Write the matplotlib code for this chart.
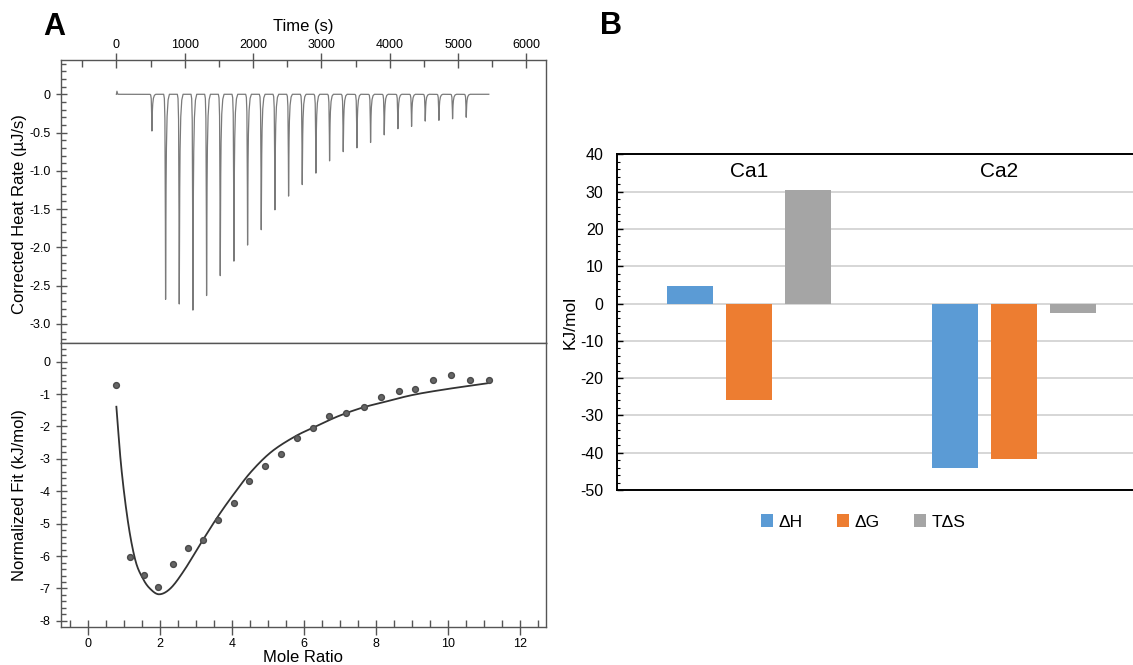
import numpy as np
import matplotlib
matplotlib.use("Agg")
import matplotlib.pyplot as plt
from matplotlib.ticker import MultipleLocator, FuncFormatter
from matplotlib.patches import Patch

plt.rcParams['font.family'] = ['Liberation Sans', 'DejaVu Sans']
plt.rcParams['axes.unicode_minus'] = False

# ---------------- data: panel A (raw ITC thermogram) ----------------
injection_times = [520, 720, 920, 1120, 1320, 1520, 1720, 1920, 2120, 2320, 2520, 2720,
                   2920, 3120, 3320, 3520, 3720, 3920, 4120, 4320, 4520, 4720, 4920, 5120]
peak_depths = [-0.48, -2.68, -2.74, -2.82, -2.63, -2.37, -2.18, -1.97, -1.77, -1.51, -1.33, -1.18,
               -1.03, -0.87, -0.75, -0.70, -0.63, -0.53, -0.45, -0.42, -0.35, -0.34, -0.32, -0.30]
# normalised shape of one injection peak (seconds relative to peak minimum)
peak_offsets = [-28, -18, -10, -4, 0, 4, 10, 20, 35, 55]
peak_profile = [0.0, -0.02, -0.12, -0.5, -1.0, -0.6, -0.3, -0.12, -0.03, 0.0]
run_start, run_end = 0, 5450
start_bump_t = [0, 8, 20, 40]
start_bump_y = [0.0, 0.04, 0.0, 0.0]

# ---------------- data: panel A (integrated heats + fit) ----------------
mole_ratio = [0.76, 1.15, 1.56, 1.95, 2.36, 2.77, 3.19, 3.61, 4.05, 4.47, 4.90, 5.36,
              5.79, 6.25, 6.70, 7.17, 7.66, 8.13, 8.62, 9.09, 9.59, 10.09, 10.61, 11.13]
norm_heat = [-0.72, -6.03, -6.58, -6.97, -6.25, -5.75, -5.49, -4.89, -4.36, -3.69, -3.23, -2.86,
             -2.37, -2.06, -1.68, -1.58, -1.40, -1.10, -0.91, -0.83, -0.58, -0.42, -0.55, -0.58]
fit_x = [0.78, 0.92, 1.11, 1.31, 1.51, 1.71, 1.97, 2.29, 2.67, 3.13, 3.60, 4.06, 4.53,
         5.09, 5.74, 6.30, 6.95, 7.61, 8.17, 9.00, 9.94, 11.13]
fit_y = [-1.39, -3.30, -5.00, -6.14, -6.68, -7.00, -7.18, -6.99, -6.43, -5.60, -4.78, -4.06, -3.39,
         -2.78, -2.31, -2.01, -1.68, -1.42, -1.26, -1.03, -0.85, -0.66]

# ---------------- data: panel B ----------------
sites = ['Ca1', 'Ca2']
series_names = ['\u0394H', '\u0394G', 'T\u0394S']
dH = [4.6, -44.2]
dG = [-25.8, -41.7]
TdS = [30.3, -2.5]
bar_colors = ['#5B9BD5', '#ED7D31', '#A5A5A5']

W, H = 1133, 665
fig = plt.figure(figsize=(W / 100, H / 100), dpi=100)

def frac(left, top, right, bottom):
    return [left / W, 1 - bottom / H, (right - left) / W, (bottom - top) / H]

def catmull_rom(xs, ys, n=20):
    """Smooth rendering of the read-off fit curve through its points."""
    P = np.column_stack([xs, ys]).astype(float)
    P = np.vstack([2 * P[0] - P[1], P, 2 * P[-1] - P[-2]])
    out = []
    for i in range(1, len(P) - 2):
        p0, p1, p2, p3 = P[i - 1], P[i], P[i + 1], P[i + 2]
        for s in np.linspace(0, 1, n, endpoint=False):
            out.append(0.5 * ((2 * p1) + (-p0 + p2) * s + (2 * p0 - 5 * p1 + 4 * p2 - p3) * s ** 2
                              + (-p0 + 3 * p1 - 3 * p2 + p3) * s ** 3))
    out.append(P[-2])
    out = np.array(out)
    return out[:, 0], out[:, 1]

spine_col = '#555555'
px = 0.72  # points per pixel

# ---------- top panel A ----------
axT = fig.add_axes(frac(60.7, 60, 545.7, 343))
t = np.arange(run_start, run_end + 1, 1.0)
trace = np.interp(t, start_bump_t, start_bump_y, left=0, right=0)
for tp, d in zip(injection_times, peak_depths):
    trace = trace + (-d) * np.interp(t - tp, peak_offsets, peak_profile, left=0, right=0)
axT.plot(t, trace, color='#7a7a7a', lw=0.9)
axT.set_xlim(-815, 6283)
axT.set_ylim(-3.25, 0.448)
axT.xaxis.tick_top()
axT.xaxis.set_label_position('top')
axT.xaxis.set_major_locator(MultipleLocator(1000))
axT.xaxis.set_minor_locator(MultipleLocator(500))
axT.yaxis.set_major_locator(MultipleLocator(0.5))
axT.yaxis.set_minor_locator(MultipleLocator(0.1))
axT.yaxis.set_major_formatter(FuncFormatter(lambda v, p: '0' if abs(v) < 1e-9 else f'{v:.1f}'))
axT.xaxis.set_major_formatter(FuncFormatter(lambda v, p: f'{v:.0f}'))
axT.tick_params(axis='x', which='major', direction='inout', length=15 * px, width=1, color=spine_col,
                labelsize=9, pad=1, top=True, bottom=False)
axT.tick_params(axis='x', which='minor', direction='in', length=7 * px, width=1, color=spine_col,
                top=True, bottom=False)
axT.tick_params(axis='y', which='major', direction='inout', length=11 * px, width=1, color=spine_col,
                labelsize=9, pad=3.2, right=False)
axT.tick_params(axis='y', which='minor', direction='in', length=5 * px, width=1, color=spine_col,
                right=False)
axT.set_xlabel('Time (s)', fontsize=12)
axT.xaxis.set_label_coords(0.5, 1 + (60 - 26.5) / 283)
axT.xaxis.label.set_verticalalignment('center')
axT.set_ylabel('Corrected Heat Rate (\u00b5J/s)', fontsize=12)
axT.yaxis.set_label_coords((19.6 - 60.7) / 485, 0.456)
axT.yaxis.label.set_verticalalignment('center')
for s in axT.spines.values():
    s.set_color(spine_col)
    s.set_linewidth(1.0)

# ---------- bottom panel A ----------
axB = fig.add_axes(frac(60.7, 343, 545.7, 626.7))
sx, sy = catmull_rom(fit_x, fit_y)
axB.plot(sx, sy, color='#333333', lw=1.3)
axB.plot(mole_ratio, norm_heat, 'o', color='#666666', mec='#4a4a4a', ms=4.2)
axB.set_xlim(-0.767, 12.71)
axB.set_ylim(-8.18, 0.577)
axB.xaxis.set_major_locator(MultipleLocator(2))
axB.xaxis.set_minor_locator(MultipleLocator(0.5))
axB.yaxis.set_major_locator(MultipleLocator(1))
axB.yaxis.set_minor_locator(MultipleLocator(0.2))
axB.xaxis.set_major_formatter(FuncFormatter(lambda v, p: f'{v:.0f}'))
axB.yaxis.set_major_formatter(FuncFormatter(lambda v, p: f'{v:.0f}'))
axB.tick_params(axis='x', which='major', direction='inout', length=15 * px, width=1, color=spine_col,
                labelsize=9, pad=2.5, top=False)
axB.tick_params(axis='x', which='minor', direction='in', length=7 * px, width=1, color=spine_col, top=False)
axB.tick_params(axis='y', which='major', direction='inout', length=11 * px, width=1, color=spine_col,
                labelsize=9, pad=3.2, right=False)
axB.tick_params(axis='y', which='minor', direction='in', length=5 * px, width=1, color=spine_col, right=False)
axB.set_xlabel('Mole Ratio', fontsize=12)
axB.xaxis.set_label_coords(0.5, -(650 - 626.7) / 283.7)
axB.xaxis.label.set_verticalalignment('top')
axB.set_ylabel('Normalized Fit (kJ/mol)', fontsize=12)
axB.yaxis.set_label_coords((19.6 - 60.7) / 485, 0.464)
axB.yaxis.label.set_verticalalignment('center')
for s in axB.spines.values():
    s.set_color(spine_col)
    s.set_linewidth(1.0)

# ---------- panel B ----------
axC = fig.add_axes(frac(617, 154.3, 1146, 490))
xc = np.arange(len(sites))
off = 0.2227
bw = 0.173
for i, (vals, c, name) in enumerate(zip([dH, dG, TdS], bar_colors, series_names)):
    axC.bar(xc + (i - 1) * off, vals, width=bw, color=c, label=name, zorder=3)
axC.set_xlim(-0.5, 1.5)
axC.set_ylim(-50, 40)
axC.yaxis.set_major_locator(MultipleLocator(10))
axC.yaxis.set_minor_locator(MultipleLocator(2))
axC.grid(axis='y', which='major', color='#D0D0D0', lw=1.2, zorder=0)
axC.set_axisbelow(True)
axC.tick_params(axis='x', which='both', bottom=False, labelbottom=False)
axC.tick_params(axis='y', which='major', direction='in', length=4, width=1, color='black',
                labelsize=11.5, pad=9.6)
axC.tick_params(axis='y', which='minor', direction='in', length=2.5, width=0.8, color='black')
axC.yaxis.set_major_formatter(FuncFormatter(lambda v, p: f'{v:.0f}'))
axC.set_ylabel('KJ/mol', fontsize=12.5)
axC.yaxis.set_label_coords((570 - 617) / 529, 0.5)
axC.yaxis.label.set_verticalalignment('center')
for side in ['left', 'top', 'bottom']:
    axC.spines[side].set_color('black')
    axC.spines[side].set_linewidth(1.4)
axC.spines['right'].set_visible(False)
label_x = [0.0, 0.945]
for lx, name in zip(label_x, sites):
    axC.text(lx, 35.5, name, ha='center', va='center', fontsize=15)

handles = [Patch(facecolor=c, edgecolor='none') for c in bar_colors]
fig.legend(handles, series_names, loc='center', bbox_to_anchor=(863 / W, 1 - 522 / H), ncol=3,
           frameon=False, fontsize=12.5, handlelength=0.7, handleheight=0.7, handletextpad=0.3,
           columnspacing=2.0, borderaxespad=0)

fig.text(54 / W, 1 - 27 / H, 'A', fontsize=22, fontweight='bold', ha='center', va='center')
fig.text(611 / W, 1 - 26 / H, 'B', fontsize=22, fontweight='bold', ha='center', va='center')

fig.savefig('out.png', dpi=100)
